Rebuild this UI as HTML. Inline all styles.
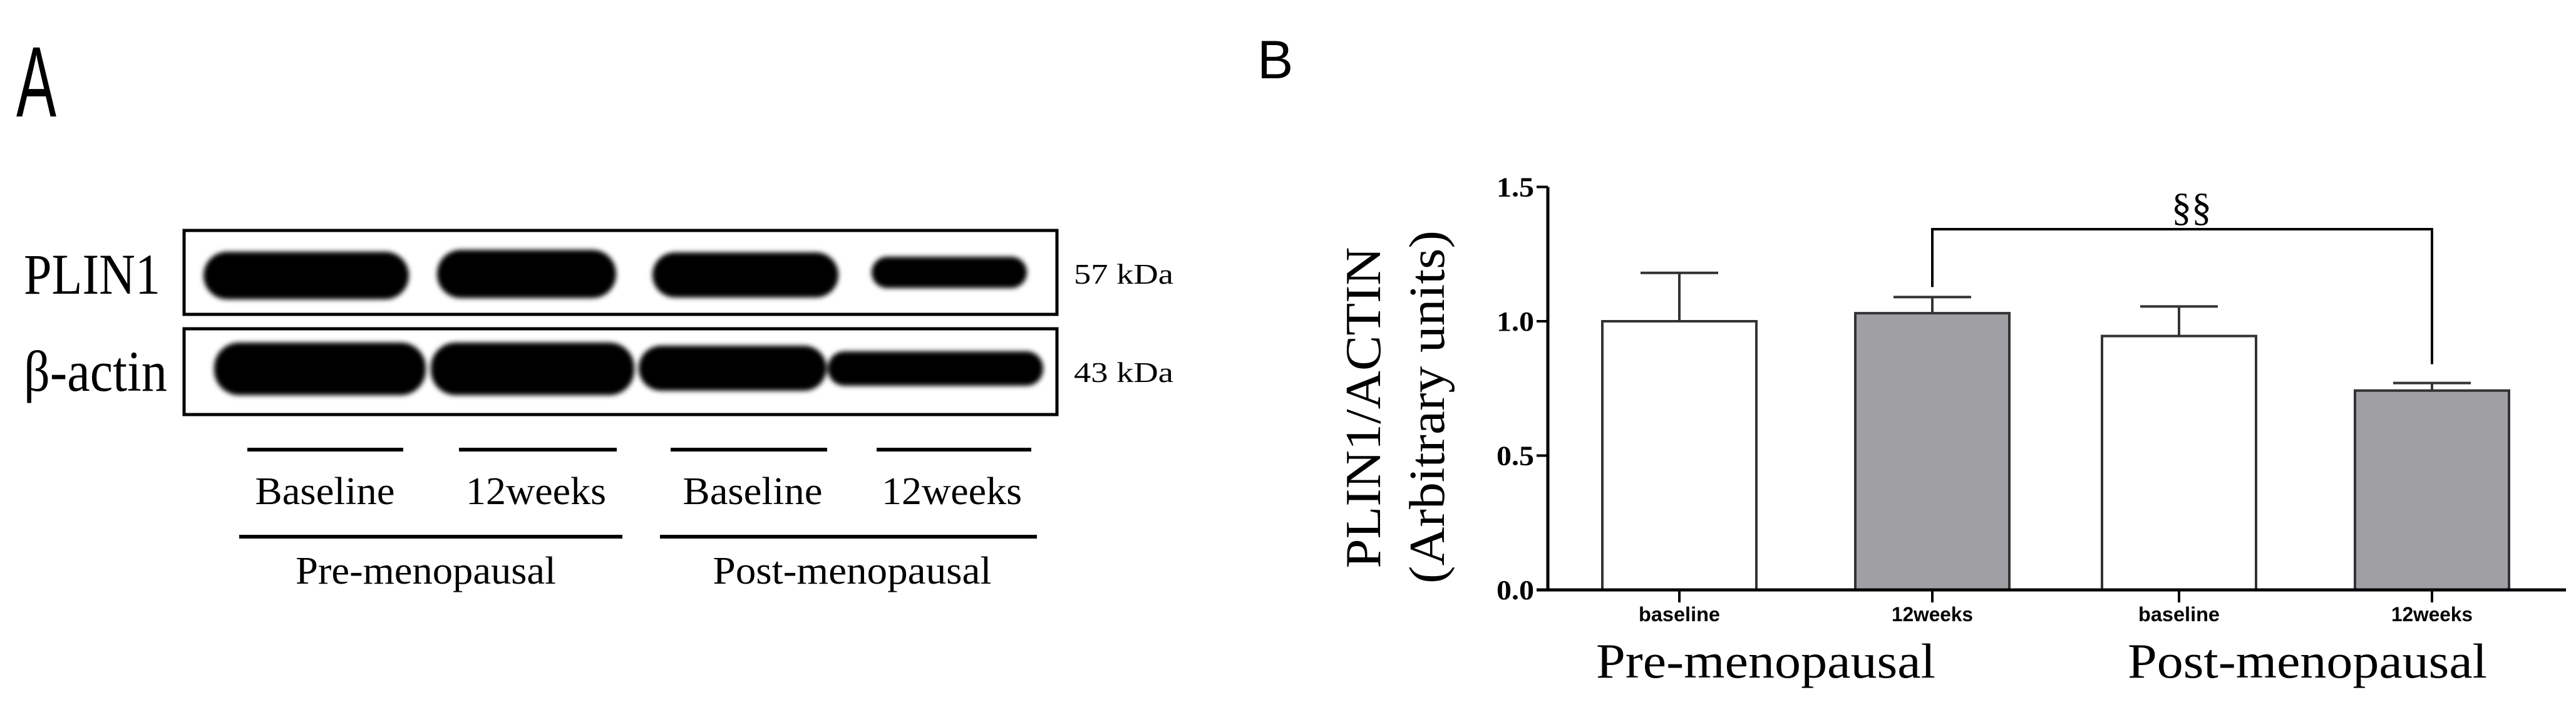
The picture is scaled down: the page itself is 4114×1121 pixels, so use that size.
<!DOCTYPE html>
<html><head><meta charset="utf-8"><style>
html,body{margin:0;padding:0;background:#fff;}
svg{display:block;}
.serif{font-family:"Liberation Serif",serif;}
.sans{font-family:"Liberation Sans",sans-serif;}
</style></head><body>
<svg id="fig" width="4114" height="1121" viewBox="0 0 4114 1121" xmlns="http://www.w3.org/2000/svg">
<defs><filter id="blur" x="-10%" y="-30%" width="120%" height="160%"><feGaussianBlur stdDeviation="4"/></filter></defs>
<!-- Panel A -->
<text x="26" y="186" class="sans" font-size="160" textLength="64" lengthAdjust="spacingAndGlyphs">A</text>
<g>
<rect x="294" y="368" width="1394" height="134" fill="#fff" stroke="#000" stroke-width="5"/>
<rect x="294" y="525" width="1394" height="137" fill="#fff" stroke="#000" stroke-width="5"/>
<g filter="url(#blur)" fill="#000">
<rect x="325" y="402" width="328" height="76" rx="38"/>
<rect x="698" y="399" width="286" height="77" rx="38"/>
<rect x="1042" y="403" width="297" height="72" rx="36"/>
<rect x="1392" y="410" width="248" height="50" rx="25"/>
<rect x="342" y="547" width="338" height="84" rx="40"/>
<rect x="688" y="547" width="325" height="84" rx="40"/>
<rect x="1020" y="552" width="300" height="72" rx="36"/>
<rect x="1322" y="561" width="344" height="55" rx="27"/>
</g>
</g>
<text x="38" y="469" class="serif" font-size="92" textLength="218" lengthAdjust="spacingAndGlyphs">PLIN1</text>
<text x="38" y="624" class="serif" font-size="92" textLength="229" lengthAdjust="spacingAndGlyphs">β-actin</text>
<text x="1715" y="453" class="serif" font-size="46" textLength="159" lengthAdjust="spacingAndGlyphs">57 kDa</text>
<text x="1715" y="610" class="serif" font-size="46" textLength="159" lengthAdjust="spacingAndGlyphs">43 kDa</text>
<g stroke="#000" stroke-width="6">
<line x1="395" y1="718" x2="644" y2="718"/><line x1="733" y1="718" x2="985" y2="718"/>
<line x1="1071" y1="718" x2="1321" y2="718"/><line x1="1400" y1="718" x2="1647" y2="718"/>
<line x1="382" y1="857" x2="994" y2="857"/><line x1="1054" y1="857" x2="1656" y2="857"/>
</g>
<g class="serif" font-size="62" text-anchor="middle">
<text x="519" y="805" textLength="223" lengthAdjust="spacingAndGlyphs">Baseline</text>
<text x="856" y="805" textLength="224" lengthAdjust="spacingAndGlyphs">12weeks</text>
<text x="1202" y="805" textLength="223" lengthAdjust="spacingAndGlyphs">Baseline</text>
<text x="1520" y="805" textLength="224" lengthAdjust="spacingAndGlyphs">12weeks</text>
<text x="680" y="932" textLength="416" lengthAdjust="spacingAndGlyphs">Pre-menopausal</text>
<text x="1361" y="932" textLength="445" lengthAdjust="spacingAndGlyphs">Post-menopausal</text>
</g>
<!-- Panel B -->
<text x="2008" y="125" class="sans" font-size="86">B</text>
<g id="chart"></g>
</svg>
<script>
const categories = ["baseline", "12weeks", "baseline", "12weeks"];
const values = [1.00, 1.03, 0.945, 0.742];
const errors = [0.18, 0.06, 0.11, 0.028];
const fills = ["#ffffff", "#a09fa4", "#ffffff", "#a09fa4"];
const yTicks = [0.0, 0.5, 1.0, 1.5];
const yTickLabels = ["0.0", "0.5", "1.0", "1.5"];
const groups = ["Pre-menopausal", "Post-menopausal"];

const NS = "http://www.w3.org/2000/svg";
const g = document.getElementById("chart");
const y0 = 942, yPerUnit = 429;
const yScale = v => y0 - v * yPerUnit;
const xLeft = 2472, band = 404, barW = 246, firstCenter = 2682;
const xCenter = i => firstCenter + i * band - (i >= 2 ? 10 : 0);
function mk(tag, attrs) { const e = document.createElementNS(NS, tag); for (const k in attrs) e.setAttribute(k, attrs[k]); g.appendChild(e); return e; }

// bars
categories.forEach((c, i) => {
  const cx = xCenter(i), top = yScale(values[i] + errors[i]);
  const eb = mk("line", {x1: cx, x2: cx, y1: top, y2: yScale(values[i]), stroke: "#333", "stroke-width": 4});
  
  
  const cap = mk("line", {x1: cx - 62, x2: cx + 62, y1: top, y2: top, stroke: "#333", "stroke-width": 4});
  
  
  const r = mk("rect", {x: cx - barW / 2, y: yScale(values[i]), width: barW, height: y0 - yScale(values[i]), fill: fills[i], stroke: "#333", "stroke-width": 4});
  
  
  const t = mk("line", {x1: cx, x2: cx, y1: y0, y2: y0 + 20, stroke: "#000", "stroke-width": 4});
  
  
  const lb = mk("text", {x: cx, y: y0 + 50, "text-anchor": "middle", "font-family": "Liberation Sans, sans-serif", "font-weight": "bold", "font-size": 32, textLength: 130, lengthAdjust: "spacingAndGlyphs"});
  lb.textContent = c;
  
  
});
// axes
const ya = mk("line", {x1: xLeft, x2: xLeft, y1: yScale(1.5), y2: y0 + 2, stroke: "#000", "stroke-width": 5});


const xa = mk("line", {x1: 2454, x2: 4098, y1: y0, y2: y0, stroke: "#000", "stroke-width": 5});


yTicks.forEach((v, i) => {
  const y = yScale(v);
  const t = mk("line", {x1: xLeft - 18, x2: xLeft, y1: y, y2: y, stroke: "#000", "stroke-width": 4});
  
  
  const l = mk("text", {x: xLeft - 22, y: y + 15, "text-anchor": "end", "font-family": "Liberation Serif, serif", "font-weight": "bold", "font-size": 44, textLength: 60, lengthAdjust: "spacingAndGlyphs"});
  l.textContent = yTickLabels[i];
  
  
});
// y axis title
const yt1 = mk("text", {x: 0, y: 0, transform: "translate(2204,651) rotate(-90)", "text-anchor": "middle", "font-family": "Liberation Serif, serif", "font-size": 80, textLength: 513, lengthAdjust: "spacingAndGlyphs"});
yt1.textContent = "PLIN1/ACTIN";


const yt2 = mk("text", {x: 0, y: 0, transform: "translate(2306,650) rotate(-90)", "text-anchor": "middle", "font-family": "Liberation Serif, serif", "font-size": 80, textLength: 564, lengthAdjust: "spacingAndGlyphs"});
yt2.textContent = "(Arbitrary  units)";


// group labels
[[2820, 542], [3685, 574]].forEach((p, i) => {
  const t = mk("text", {x: p[0], y: 1082, "text-anchor": "middle", "font-family": "Liberation Serif, serif", "font-size": 78, textLength: p[1], lengthAdjust: "spacingAndGlyphs"});
  t.textContent = groups[i];
  
  
});
// significance bracket between bar 2 and bar 4
const bx1 = xCenter(1), bx2 = xCenter(3), by = 366;
const br = mk("path", {d: `M${bx1},${yScale(values[1] + errors[1]) - 16} V${by} H${bx2} V${yScale(values[3] + errors[3]) - 30}`, fill: "none", stroke: "#000", "stroke-width": 4});


const sg = mk("text", {x: (bx1 + bx2) / 2 + 15, y: 352, "text-anchor": "middle", "font-family": "Liberation Serif, serif", "font-size": 64});
sg.textContent = "§§";


</script>
</body></html>
